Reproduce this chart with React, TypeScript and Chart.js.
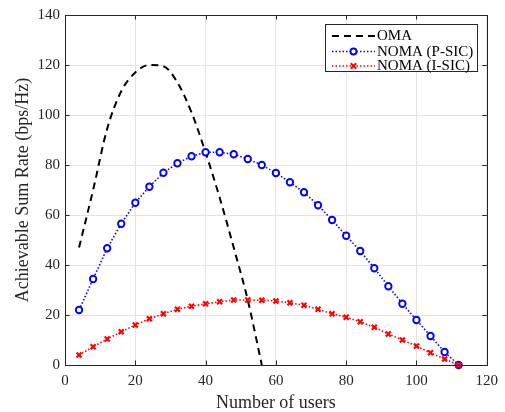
import React, { useEffect, useRef } from "react";
import { Chart, registerables } from "chart.js";

Chart.register(...registerables);

const omaX = [4, 8, 12, 16, 20, 24, 28, 32, 36, 40, 44, 48, 52, 56];
const omaY = [47, 70, 94.5, 109.5, 117, 120, 119.5, 113, 101, 85, 67, 47, 26, 0];

const nomaX = [4, 8, 12, 16, 20, 24, 28, 32, 36, 40, 44, 48, 52, 56, 60, 64, 68, 72, 76, 80, 84, 88, 92, 96, 100, 104, 108, 112];
const pSicY = [22, 34.4, 46.7, 56.5, 64.9, 71.3, 76.9, 80.7, 83.5, 85.1, 85.1, 84.3, 82.4, 80, 76.8, 73.1, 69.1, 63.9, 58, 51.7, 45.6, 38.7, 31.5, 24.5, 18, 11.6, 5.2, 0];
const iSicY = [4, 7.3, 10.4, 13.3, 16, 18.5, 20.5, 22.3, 23.5, 24.5, 25.3, 26, 26, 25.9, 25.6, 24.9, 23.9, 22.3, 20.5, 19.1, 17.3, 15.1, 12.4, 10, 7.6, 4.9, 2.4, 0];

const xTicks = [0, 20, 40, 60, 80, 100, 120];
const yTicks = [0, 20, 40, 60, 80, 100, 120, 140];

const legendLabels = ["OMA", "NOMA (P-SIC)", "NOMA (I-SIC)"];

const SERIF = "'Liberation Serif', 'Times New Roman', serif";

const toPts = (xs: number[], ys: number[]) => xs.map((x, i) => ({ x, y: ys[i] }));

const framePlugin = {
  id: "frame",
  afterDatasetsDraw(chart: any) {
    const { ctx, chartArea: a, scales } = chart;
    const xs = scales.x;
    const ys = scales.y;
    ctx.save();
    ctx.strokeStyle = "#262626";
    ctx.lineWidth = 1;
    ctx.setLineDash([]);
    ctx.strokeRect(Math.round(a.left) + 0.5, Math.round(a.top) + 0.5, Math.round(a.right - a.left), Math.round(a.bottom - a.top));
    const tl = 4.5;
    ctx.beginPath();
    xTicks.forEach((t) => {
      const px = Math.round(xs.getPixelForValue(t)) + 0.5;
      ctx.moveTo(px, a.bottom);
      ctx.lineTo(px, a.bottom - tl);
      ctx.moveTo(px, a.top);
      ctx.lineTo(px, a.top + tl);
    });
    yTicks.forEach((t) => {
      const py = Math.round(ys.getPixelForValue(t)) + 0.5;
      ctx.moveTo(a.left, py);
      ctx.lineTo(a.left + tl, py);
      ctx.moveTo(a.right, py);
      ctx.lineTo(a.right - tl, py);
    });
    ctx.stroke();

    // legend
    const bx = 325.5, by = 24.5, bw = 152, bh = 47;
    ctx.fillStyle = "#ffffff";
    ctx.fillRect(bx, by, bw, bh);
    ctx.strokeStyle = "#262626";
    ctx.lineWidth = 1;
    ctx.strokeRect(bx, by, bw, bh);
    const rows = [36, 51.5, 66];
    const styles = [
      { color: "#000000", dash: [7, 5], width: 2, marker: "" },
      { color: "#0000ff", dash: [1.5, 2], width: 1.5, marker: "circle" },
      { color: "#ff0000", dash: [1.5, 2], width: 1.5, marker: "cross" },
    ];
    ctx.font = `15px ${SERIF}`;
    ctx.textBaseline = "middle";
    ctx.textAlign = "left";
    rows.forEach((ry, i) => {
      const s = styles[i];
      ctx.strokeStyle = s.color;
      ctx.lineWidth = s.width;
      ctx.setLineDash(s.dash);
      ctx.beginPath();
      ctx.moveTo(332, ry);
      ctx.lineTo(375, ry);
      ctx.stroke();
      ctx.setLineDash([]);
      const cx = 353.5;
      if (s.marker === "circle") {
        ctx.lineWidth = 1.8;
        ctx.beginPath();
        ctx.arc(cx, ry, 3, 0, Math.PI * 2);
        ctx.fillStyle = "#ffffff";
        ctx.fill();
        ctx.stroke();
      } else if (s.marker === "cross") {
        ctx.lineWidth = 2;
        ctx.beginPath();
        ctx.moveTo(cx - 2.7, ry - 2.7);
        ctx.lineTo(cx + 2.7, ry + 2.7);
        ctx.moveTo(cx - 2.7, ry + 2.7);
        ctx.lineTo(cx + 2.7, ry - 2.7);
        ctx.stroke();
      }
      ctx.fillStyle = "#000000";
      ctx.fillText(legendLabels[i], 377, ry + 0.5);
    });
    ctx.restore();
  },
};

export default function App() {
  const ref = useRef<HTMLCanvasElement | null>(null);
  useEffect(() => {
    document.body.style.margin = "0";
    const canvas = ref.current;
    if (!canvas) return;
    const chart = new Chart(canvas, {
      type: "line",
      data: {
        datasets: [
          {
            label: legendLabels[0],
            data: toPts(omaX, omaY),
            borderColor: "#000000",
            borderWidth: 2,
            borderDash: [7, 5],
            pointRadius: 0,
            cubicInterpolationMode: "monotone",
            fill: false,
            order: 3,
          },
          {
            label: legendLabels[1],
            data: toPts(nomaX, pSicY),
            borderColor: "#0000ff",
            borderWidth: 1.6,
            borderDash: [1.5, 2],
            pointStyle: "circle",
            pointRadius: 3.2,
            pointBorderWidth: 1.9,
            pointBorderColor: "#0000ff",
            pointBackgroundColor: "#ffffff",
            tension: 0,
            fill: false,
            order: 2,
          },
          {
            label: legendLabels[2],
            data: toPts(nomaX, iSicY),
            borderColor: "#ff0000",
            borderWidth: 1.6,
            borderDash: [1.5, 2],
            pointStyle: "crossRot",
            pointRadius: 3.5,
            pointBorderWidth: 2.2,
            pointBorderColor: "#ff0000",
            pointBackgroundColor: "#ff0000",
            tension: 0,
            fill: false,
            order: 1,
          },
        ],
      },
      options: {
        animation: false,
        responsive: false,
        maintainAspectRatio: false,
        layout: { padding: { top: 15, right: 15, left: 0, bottom: 0 } },
        plugins: { legend: { display: false }, tooltip: { enabled: false } },
        elements: { line: { borderCapStyle: "butt" } },
        datasets: { line: { clip: 6 } } as any,
        scales: {
          x: {
            type: "linear",
            min: 0,
            max: 120,
            afterFit: (s: any) => { s.height = 47; },
            afterBuildTicks: (s: any) => { s.ticks = xTicks.map((v) => ({ value: v })); },
            ticks: { font: { family: SERIF, size: 15 }, color: "#262626", padding: 7, maxRotation: 0 },
            grid: { color: "#e3e3e3", drawTicks: false, lineWidth: 1 },
            border: { display: false },
            title: { display: true, text: "Number of users", font: { family: SERIF, size: 18, lineHeight: 1 }, color: "#262626", padding: { top: 0, bottom: 0 } },
          },
          y: {
            type: "linear",
            min: 0,
            max: 140,
            afterFit: (s: any) => { s.width = 65; },
            afterBuildTicks: (s: any) => { s.ticks = yTicks.map((v) => ({ value: v })); },
            ticks: { font: { family: SERIF, size: 15 }, color: "#262626", padding: 5 },
            grid: { color: "#e3e3e3", drawTicks: false, lineWidth: 1 },
            border: { display: false },
            title: { display: true, text: "Achievable Sum Rate (bps/Hz)", font: { family: SERIF, size: 18 }, color: "#262626", padding: { top: 12, bottom: 0 } },
          },
        },
      },
      plugins: [framePlugin],
    } as any);
    return () => chart.destroy();
  }, []);
  return (
    <div style={{ width: 505, height: 412 }}>
      <canvas ref={ref} width={505} height={412} style={{ display: "block", width: 505, height: 412 }} />
    </div>
  );
}
